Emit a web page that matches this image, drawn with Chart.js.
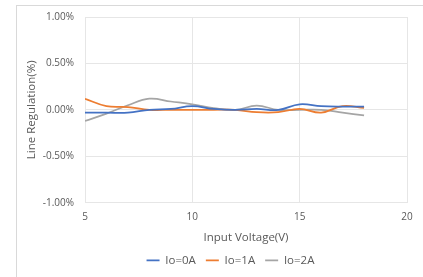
<!DOCTYPE html>
<html>
<head>
<meta charset="utf-8">
<script src="https://cdn.jsdelivr.net/npm/chart.js@4"></script>
<style>
  html, body { margin: 0; padding: 0; background: #fff; }
  #wrap { position: relative; width: 423px; height: 277px; overflow: hidden; }
  #frame { position: absolute; left: 16px; top: 5px; width: 420px; height: 290px; border: 1px solid #d9d9d9; }
  #myChart { position: absolute; left: 0; top: 0; }
</style>
</head>
<body>
<div id="wrap">
  <div id="frame"></div>
  <canvas id="myChart" width="423" height="277"></canvas>
</div>
<script>
// Input voltage (V)
var voltages = [5, 6, 7, 8, 9, 10, 11, 12, 13, 14, 15, 16, 17, 18];
// Line regulation (%) per load current
var io0A = [-0.03, -0.03, -0.03, 0.0, 0.01, 0.04, 0.01, 0.0, 0.01, 0.0, 0.06, 0.04, 0.035, 0.035];
var io1A = [0.12, 0.04, 0.03, 0.0, 0.0, 0.0, 0.0, 0.0, -0.025, -0.025, 0.01, -0.03, 0.04, 0.02];
var io2A = [-0.12, -0.04, 0.05, 0.12, 0.09, 0.06, 0.02, 0.0, 0.045, 0.0, 0.0, 0.0, -0.03, -0.06];

var seriesNames = ['Io=0A', 'Io=1A', 'Io=2A'];
var seriesColors = ['#4472C4', '#ED7D31', '#A5A5A5'];
var yTicks = [-1, -0.5, 0, 0.5, 1];

function toPoints(vals) {
    return voltages.map(function (v, i) { return { x: v, y: vals[i] }; });
}

var textColor = '#595959';
var gridColor = '#e6e6e6';
var tickFont = { family: 'Open Sans', size: 10 };
var titleFont = { family: 'Open Sans', size: 11.5 };

// move the legend so it is centred like the original
var legendShift = {
    id: 'legendShift',
    afterLayout: function (chart) {
        var lg = chart.legend;
        var shift = 230.5 - (lg.left + lg.right) / 2;
        lg.left += shift;
        lg.right += shift;
    }
};

var ctx = document.getElementById('myChart').getContext('2d');
var chart = new Chart(ctx, {
    type: 'line',
    data: {
        datasets: [io0A, io1A, io2A].map(function (vals, i) {
            return {
                label: seriesNames[i],
                data: toPoints(vals),
                borderColor: seriesColors[i],
                backgroundColor: seriesColors[i],
                borderWidth: 1.75,
                pointRadius: 0,
                tension: 0.4,
                pointStyle: 'line'
            };
        })
    },
    plugins: [legendShift],
    options: {
        responsive: false,
        animation: false,
        layout: { padding: { left: 0, top: 16, right: 16, bottom: 1 } },
        plugins: {
            legend: {
                position: 'bottom',
                labels: {
                    usePointStyle: true,
                    pointStyleWidth: 13,
                    boxHeight: 6,
                    color: textColor,
                    font: titleFont,
                    padding: 10
                }
            },
            tooltip: { enabled: false }
        },
        scales: {
            x: {
                type: 'linear',
                min: 5,
                max: 20,
                ticks: { stepSize: 5, color: textColor, font: tickFont, padding: 8 },
                grid: { color: gridColor, drawTicks: false },
                border: { color: gridColor },
                title: {
                    display: true,
                    text: 'Input Voltage(V)',
                    color: textColor,
                    font: titleFont,
                    padding: { top: 0, bottom: 0 }
                }
            },
            y: {
                min: -1,
                max: 1,
                afterBuildTicks: function (scale) {
                    scale.ticks = yTicks.map(function (v) { return { value: v }; });
                },
                afterFit: function (scale) { scale.width = 85; },
                ticks: {
                    color: textColor,
                    font: tickFont,
                    padding: 11,
                    callback: function (v) { return v.toFixed(2) + '%'; }
                },
                grid: { color: gridColor, drawTicks: false },
                border: { color: gridColor },
                title: {
                    display: true,
                    text: 'Line Regulation(%)',
                    color: textColor,
                    font: titleFont,
                    padding: { top: 25, bottom: 0 }
                }
            }
        }
    }
});
</script>
</body>
</html>
